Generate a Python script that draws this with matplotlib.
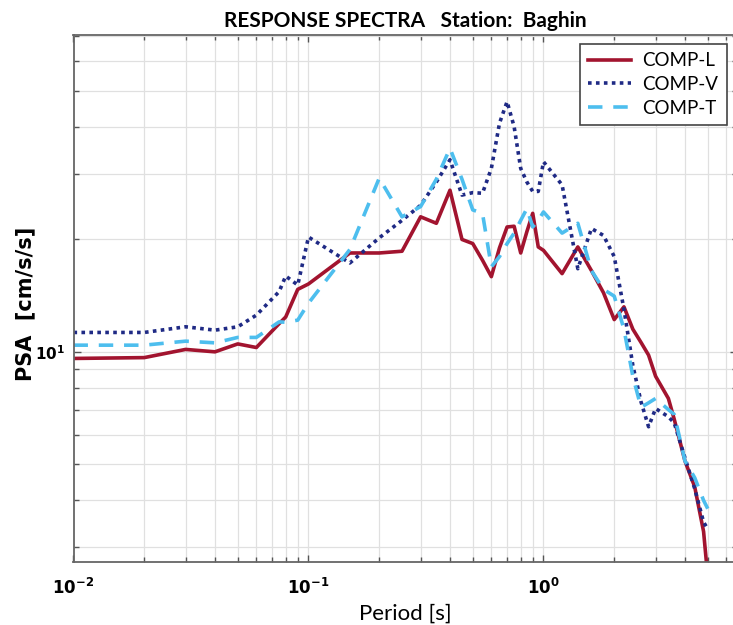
import numpy as np
import matplotlib.pyplot as plt
from matplotlib.ticker import LogLocator, NullFormatter

# periods [s]
period = [0.01, 0.02, 0.03, 0.04, 0.05, 0.06, 0.075, 0.08, 0.09, 0.1,
          0.15, 0.2, 0.25, 0.3, 0.35, 0.4, 0.45, 0.5, 0.55, 0.6,
          0.65, 0.7, 0.75, 0.8, 0.85, 0.9, 0.95, 1.0, 1.2, 1.4,
          1.6, 1.8, 2.0, 2.2, 2.4, 2.6, 2.8, 3.0, 3.4, 3.6,
          4.0, 4.4, 4.8, 5.0]

# PSA values [cm/s/s]
comp_L = [9.6, 9.65, 10.15, 10.0, 10.5, 10.27, 11.9, 12.4, 14.7, 15.2,
          18.4, 18.4, 18.6, 23.0, 22.1, 27.1, 20.0, 19.5, 17.6, 15.9,
          19.0, 21.6, 21.7, 18.4, 21.0, 23.5, 19.1, 18.7, 16.2, 19.1,
          16.5, 14.4, 12.2, 13.2, 11.5, 10.6, 9.8, 8.6, 7.5, 6.6,
          5.1, 4.35, 3.3, 2.5]
comp_V = [11.27, 11.27, 11.67, 11.43, 11.67, 12.54, 14.5, 15.96, 15.1, 20.3,
          17.3, 20.2, 22.5, 24.7, 28.5, 32.7, 26.3, 26.7, 26.6, 31.0,
          41.0, 46.8, 40.1, 31.0, 28.5, 26.9, 26.9, 32.3, 28.0, 16.7,
          21.4, 20.5, 18.0, 13.0, 9.2, 7.35, 6.3, 7.05, 6.7, 6.45,
          5.2, 4.3, 3.5, 3.35]
comp_T = [10.42, 10.42, 10.68, 10.57, 10.93, 10.93, 12.03, 12.0, 12.16, 13.5,
          18.8, 29.2, 23.0, 24.5, 29.0, 35.1, 29.0, 24.0, 23.5, 16.9,
          18.0, 19.5, 20.8, 22.5, 24.2, 21.6, 22.5, 23.7, 20.8, 22.1,
          16.5, 14.7, 14.1, 11.5, 8.6, 7.1, 7.3, 7.5, 7.0, 6.8,
          5.1, 4.6, 4.0, 3.8]

fig = plt.figure(figsize=(7.33, 6.25), dpi=100)
# axes runs slightly past the right edge of the picture, like the original
ax = fig.add_axes([73.5/733, 1-561.7/625, 663.5/733, 526.7/625])

ax.plot(period, comp_L, color='#A2142F', lw=2.6, label='COMP-L')
ax.plot(period, comp_V, color='#1F2A85', lw=2.6, ls=(0, (1, 1.2)), label='COMP-V')
ax.plot(period, comp_T, color='#4DBEEE', lw=2.6, ls=(0, (4, 3)), label='COMP-T')

ax.set_xscale('log')
ax.set_yscale('log')
ax.set_xlim(0.01, 6.66)
ax.set_ylim(2.74, 70.6)

ax.xaxis.set_major_locator(LogLocator(base=10))
ax.xaxis.set_minor_locator(LogLocator(base=10, subs=np.arange(2, 10)))
ax.yaxis.set_major_locator(LogLocator(base=10))
ax.yaxis.set_minor_locator(LogLocator(base=10, subs=np.arange(2, 10)))
ax.xaxis.set_minor_formatter(NullFormatter())
ax.yaxis.set_minor_formatter(NullFormatter())

ax.grid(True, which='both', color='#E0E0E0', lw=0.9)
ax.set_axisbelow(True)
ax.tick_params(which='both', direction='in', top=True, right=True,
               color='#555555', width=1.0)
ax.tick_params(which='major', length=5)
ax.tick_params(which='minor', length=3.5)
ax.tick_params(axis='x', which='major', pad=12, labelsize=12)
ax.tick_params(axis='y', which='major', pad=6, labelsize=11)
for lab in ax.get_xticklabels() + ax.get_yticklabels():
    lab.set_fontweight('bold')
    lab.set_family('DejaVu Sans')
for s in ax.spines.values():
    s.set_color('#666666')
    s.set_linewidth(1.3)

ax.set_title('RESPONSE SPECTRA   Station:  Baghin', fontsize=15,
             fontweight='bold', family='Lato', pad=6)
ax.set_xlabel('Period [s]', fontsize=16, family='Lato', labelpad=4)
fig.text(25/733, 1-304/625, 'PSA  [cm/s/s]', ha='center', va='center',
         rotation=90, fontsize=15, fontweight='bold', family='DejaVu Sans')

leg = ax.legend(loc='upper right', bbox_to_anchor=(727/733, 1-44/625),
                bbox_transform=fig.transFigure, fancybox=False,
                edgecolor='#444444', framealpha=1, handlelength=2.3,
                borderaxespad=0, prop={'family': 'Lato', 'size': 13.5},
                labelspacing=0.35, borderpad=0.45, handletextpad=0.6)
leg.get_frame().set_linewidth(1.2)

fig.savefig('out.png', dpi=100)
